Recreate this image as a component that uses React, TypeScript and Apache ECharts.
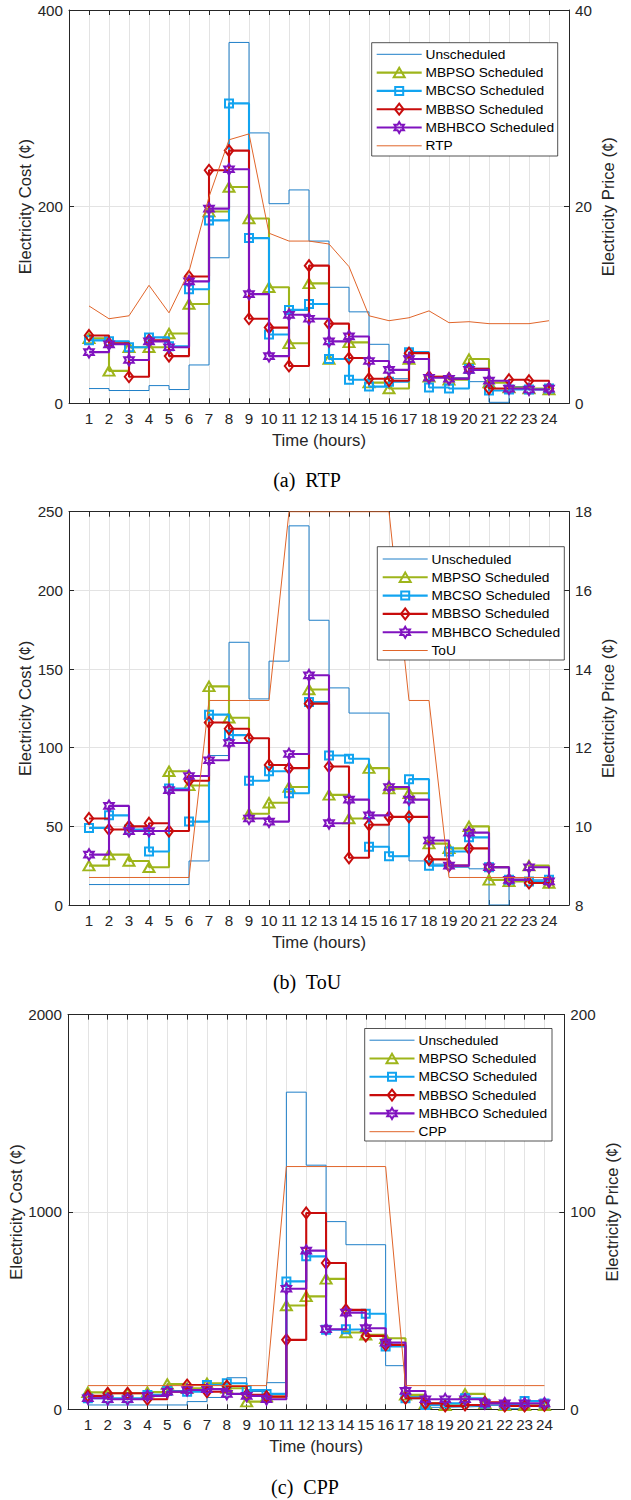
import React, { useEffect, useRef } from "react";
import * as echarts from "echarts";

const HOURS = [1, 2, 3, 4, 5, 6, 7, 8, 9, 10, 11, 12, 13, 14, 15, 16, 17, 18, 19, 20, 21, 22, 23, 24];

// (a) RTP
const A_UNSCHEDULED = [15, 13, 13, 18, 14, 39, 148, 367, 275, 203, 217, 165, 118, 93, 60, 25, 52, 27, 26, 22, 1, 17, 15, 15];
const A_MBPSO = [66, 33, 57, 57, 71, 101, 195, 220, 188, 118, 61, 122, 45, 62, 21, 15, 45, 27, 24, 45, 21, 16, 15, 14];
const A_MBCSO = [64, 63, 57, 67, 58, 116, 186, 305, 168, 70, 95, 101, 45, 24, 17, 22, 52, 16, 15, 35, 13, 14, 14, 15];
const A_MBBSO = [69, 61, 27, 64, 48, 129, 237, 257, 86, 77, 38, 140, 81, 46, 25, 23, 51, 27, 25, 35, 15, 24, 23, 15];
const A_MBHBCO = [52, 60, 44, 63, 57, 124, 198, 238, 111, 48, 90, 86, 63, 68, 43, 34, 45, 26, 25, 34, 23, 15, 14, 15];
const A_RTP = [9.9, 8.6, 8.9, 12.0, 9.2, 13.4, 21.0, 26.8, 27.4, 17.3, 16.5, 16.5, 16.2, 13.9, 8.9, 8.4, 8.7, 9.4, 8.2, 8.3, 8.1, 8.1, 8.1, 8.4];

// (b) ToU
const B_UNSCHEDULED = [13, 13, 13, 13, 13, 28, 95, 167, 131, 155, 241, 181, 138, 122, 122, 31, 28, 26, 24, 23, 0, 16, 16, 16];
const B_MBPSO = [25, 32, 28, 24, 85, 76, 139, 119, 58, 65, 75, 137, 70, 55, 87, 74, 71, 39, 36, 50, 16, 15, 25, 14];
const B_MBCSO = [49, 57, 48, 34, 74, 53, 121, 108, 79, 85, 71, 129, 95, 93, 37, 31, 80, 25, 34, 43, 24, 16, 15, 16];
const B_MBBSO = [55, 48, 50, 52, 47, 79, 116, 112, 106, 89, 87, 128, 88, 30, 51, 56, 56, 29, 25, 36, 24, 16, 14, 15];
const B_MBHBCO = [32, 63, 47, 47, 73, 82, 92, 103, 55, 53, 96, 146, 52, 67, 57, 75, 67, 41, 25, 46, 24, 16, 24, 15];
const B_TOU = [8.7, 8.7, 8.7, 8.7, 8.7, 8.7, 13.2, 13.2, 13.2, 13.2, 18, 18, 18, 18, 18, 18, 13.2, 13.2, 8.7, 8.7, 8.7, 8.7, 8.7, 8.7];

// (c) CPP
const C_UNSCHEDULED = [22, 22, 22, 22, 22, 39, 60, 160, 90, 135, 1607, 1237, 951, 834, 834, 221, 64, 10, 12, 15, 20, 3, 15, 15];
const C_MBPSO = [86, 81, 81, 87, 128, 107, 132, 107, 39, 64, 526, 572, 661, 389, 377, 360, 73, 30, 20, 78, 30, 20, 20, 20];
const C_MBCSO = [56, 56, 56, 73, 93, 89, 123, 132, 98, 78, 648, 775, 403, 406, 484, 318, 56, 22, 30, 56, 30, 22, 42, 30];
const C_MBBSO = [68, 81, 81, 51, 89, 123, 89, 118, 73, 64, 352, 995, 741, 504, 372, 326, 56, 30, 17, 22, 35, 17, 17, 20];
const C_MBHBCO = [56, 51, 51, 68, 89, 98, 102, 78, 68, 51, 611, 804, 406, 490, 411, 338, 93, 51, 51, 51, 30, 30, 30, 30];
const C_CPP = [12, 12, 12, 12, 12, 12, 12, 12, 12, 12, 123, 123, 123, 123, 123, 123, 12, 12, 12, 12, 12, 12, 12, 12];

const SERIES_NAMES = ["Unscheduled", "MBPSO Scheduled", "MBCSO Scheduled", "MBBSO Scheduled", "MBHBCO Scheduled"];

const COL_UNS = "#1F7FC8";
const COL_PSO = "#9EB51B";
const COL_CSO = "#12A4F0";
const COL_BSO = "#C80C0C";
const COL_HBCO = "#8013BF";
const COL_PRICE = "#E0652A";
const AX = "#262626";
const GRIDC = "#E3E3E3";
const FONT = '"Liberation Sans", Arial, sans-serif';

const HEX_PTS = [
  [0, -1], [0.2887, -0.5], [0.866, -0.5], [0.577, 0], [0.866, 0.5], [0.2887, 0.5],
  [0, 1], [-0.2887, 0.5], [-0.866, 0.5], [-0.577, 0], [-0.866, -0.5], [-0.2887, -0.5],
];
const HEX_PATH =
  "path://M0,-1L0.2887,-0.5L0.866,-0.5L0.577,0L0.866,0.5L0.2887,0.5L0,1L-0.2887,0.5L-0.866,0.5L-0.577,0L-0.866,-0.5L-0.2887,-0.5Z";

const MARKERS = [
  { color: COL_UNS, symbol: "none", size: [0, 0], width: 1 },
  { color: COL_PSO, symbol: "triangle", size: [11, 9.5], width: 2.1 },
  { color: COL_CSO, symbol: "rect", size: [8, 8], width: 2.1 },
  { color: COL_BSO, symbol: "diamond", size: [8.5, 11], width: 2.1 },
  { color: COL_HBCO, symbol: HEX_PATH, size: [9.5, 11], width: 2.1 },
];
const MARK_BW = 2;

const PANELS = [
  {
    grid: { left: 69, top: 10, width: 500, height: 393.3 },
    costMax: 400, costInterval: 200, priceMin: 0, priceMax: 40, priceInterval: 20,
    leftGap: 35.5, rightGap: 30.5,
    data: [A_UNSCHEDULED, A_MBPSO, A_MBCSO, A_MBBSO, A_MBHBCO],
    price: A_RTP, priceName: "RTP",
    legend: { x: 371.7, y: 42.7, w: 186, h: 113.3, firstY: 54.3, lineX: 376.7, textX: 425.5 },
    caption: { text: "(a)  RTP", x: 307, y: 480 },
  },
  {
    grid: { left: 69, top: 511.7, width: 500, height: 393.3 },
    costMax: 250, costInterval: 50, priceMin: 8, priceMax: 18, priceInterval: 2,
    leftGap: 35.5, rightGap: 30.5,
    data: [B_UNSCHEDULED, B_MBPSO, B_MBCSO, B_MBBSO, B_MBHBCO],
    price: B_TOU, priceName: "ToU",
    legend: { x: 377.3, y: 546.7, w: 187, h: 113.3, firstY: 559, lineX: 382.7, textX: 431.5 },
    caption: { text: "(b)  ToU", x: 307, y: 982 },
  },
  {
    grid: { left: 64.3, top: 1014.6, width: 500, height: 394.7 },
    costMax: 2000, costInterval: 1000, priceMin: 0, priceMax: 200, priceInterval: 100,
    leftGap: 43, rightGap: 40,
    data: [C_UNSCHEDULED, C_MBPSO, C_MBCSO, C_MBBSO, C_MBHBCO],
    price: C_CPP, priceName: "CPP",
    legend: { x: 364.7, y: 1028.5, w: 187.3, h: 112.5, firstY: 1040.2, lineX: 369.5, textX: 418.5 },
    caption: { text: "(c)  CPP", x: 305, y: 1487 },
  },
];

function markerGraphic(k: number, cx: number, cy: number) {
  const m = MARKERS[k];
  const style = { fill: "transparent", stroke: m.color, lineWidth: MARK_BW };
  const [w, h] = m.size;
  if (k === 1) {
    return { type: "polygon", z: 102, shape: { points: [[cx, cy - h / 2], [cx + w / 2, cy + h / 2], [cx - w / 2, cy + h / 2]] }, style };
  }
  if (k === 2) {
    return { type: "rect", z: 102, shape: { x: cx - w / 2, y: cy - h / 2, width: w, height: h }, style };
  }
  if (k === 3) {
    return { type: "polygon", z: 102, shape: { points: [[cx, cy - h / 2], [cx + w / 2, cy], [cx, cy + h / 2], [cx - w / 2, cy]] }, style };
  }
  if (k === 4) {
    const sx = w / 1.732;
    const sy = h / 2;
    return { type: "polygon", z: 102, shape: { points: HEX_PTS.map(([px, py]) => [cx + px * sx, cy + py * sy]) }, style };
  }
  return null;
}

function buildOption() {
  const xAxis: any[] = [];
  const yAxis: any[] = [];
  const grid: any[] = [];
  const series: any[] = [];
  const elements: any[] = [];

  PANELS.forEach((p, i) => {
    grid.push({ ...p.grid, containLabel: false });
    xAxis.push({
      gridIndex: i, type: "value", min: 0, max: 25, interval: 1, position: "bottom",
      axisLine: { show: true, onZero: false, lineStyle: { color: AX, width: 1 } },
      axisTick: { show: true, inside: true, length: 5, lineStyle: { color: AX, width: 1 } },
      axisLabel: {
        formatter: (v: number) => (v >= 1 && v <= 24 ? String(v) : ""),
        fontSize: 15.2, color: AX, fontFamily: FONT, margin: 8,
      },
      splitLine: { show: true, lineStyle: { color: GRIDC, width: 1 } },
      name: "Time (hours)", nameLocation: "middle", nameGap: 29, nameMoveOverlap: false,
      nameTextStyle: { fontSize: 16.7, color: AX, fontFamily: FONT },
    });
    xAxis.push({
      gridIndex: i, type: "value", min: 0, max: 25, interval: 1, position: "top",
      axisLine: { show: true, onZero: false, lineStyle: { color: AX, width: 1 } },
      axisTick: { show: true, inside: true, length: 5, lineStyle: { color: AX, width: 1 } },
      axisLabel: { show: false },
      splitLine: { show: false },
    });
    yAxis.push({
      gridIndex: i, type: "value", min: 0, max: p.costMax, interval: p.costInterval, position: "left",
      axisLine: { show: true, onZero: false, lineStyle: { color: AX, width: 1 } },
      axisTick: { show: true, inside: true, length: 5, lineStyle: { color: AX, width: 1 } },
      axisLabel: { fontSize: 15.2, color: AX, fontFamily: FONT, margin: 6, formatter: (v: number) => String(v) },
      splitLine: { show: true, lineStyle: { color: GRIDC, width: 1 } },
      name: "Electricity Cost (\u00A2)", nameLocation: "middle", nameRotate: 90, nameGap: p.leftGap,
      nameMoveOverlap: false,
      nameTextStyle: { fontSize: 16.7, color: AX, fontFamily: FONT },
    });
    yAxis.push({
      gridIndex: i, type: "value", min: p.priceMin, max: p.priceMax, interval: p.priceInterval, position: "right",
      axisLine: { show: true, onZero: false, lineStyle: { color: AX, width: 1 } },
      axisTick: { show: true, inside: true, length: 5, lineStyle: { color: AX, width: 1 } },
      axisLabel: { fontSize: 15.2, color: AX, fontFamily: FONT, margin: 6, formatter: (v: number) => String(v) },
      splitLine: { show: false },
      name: "Electricity Price (\u00A2)", nameLocation: "middle", nameRotate: 90, nameGap: p.rightGap,
      nameMoveOverlap: false,
      nameTextStyle: { fontSize: 16.7, color: AX, fontFamily: FONT },
    });

    p.data.forEach((vals, k) => {
      const m = MARKERS[k];
      const s: any = {
        type: "line", name: SERIES_NAMES[k], xAxisIndex: 2 * i, yAxisIndex: 2 * i,
        data: HOURS.map((h, j) => [h, vals[j]]),
        step: "end",
        lineStyle: { color: m.color, width: m.width },
        emphasis: { disabled: true },
        z: 2 + k,
      };
      if (k === 0) {
        s.symbol = "none";
        s.showSymbol = false;
        s.itemStyle = { color: m.color };
      } else {
        s.symbol = m.symbol;
        s.symbolSize = m.size;
        s.showSymbol = true;
        s.showAllSymbol = true;
        s.itemStyle = { color: "transparent", borderColor: m.color, borderWidth: MARK_BW };
      }
      series.push(s);
    });
    series.push({
      type: "line", name: p.priceName, xAxisIndex: 2 * i, yAxisIndex: 2 * i + 1,
      data: HOURS.map((h, j) => [h, p.price[j]]),
      symbol: "none", showSymbol: false,
      lineStyle: { color: COL_PRICE, width: 1 },
      itemStyle: { color: COL_PRICE },
      emphasis: { disabled: true },
      z: 8,
    });

    // legend
    const L = p.legend;
    elements.push({
      type: "rect", z: 100,
      shape: { x: L.x, y: L.y, width: L.w, height: L.h },
      style: { fill: "#ffffff", stroke: AX, lineWidth: 0.8 },
    });
    const names = [...SERIES_NAMES, p.priceName];
    names.forEach((nm, k) => {
      const cy = L.firstY + 18.3 * k;
      const color = k < 5 ? MARKERS[k].color : COL_PRICE;
      const lw = k === 0 || k === 5 ? 1 : 2.1;
      elements.push({
        type: "line", z: 101,
        shape: { x1: L.lineX, y1: cy, x2: L.lineX + 45, y2: cy },
        style: { stroke: color, lineWidth: lw },
      });
      if (k >= 1 && k <= 4) {
        const mg = markerGraphic(k, L.lineX + 22.5, cy);
        if (mg) elements.push(mg);
      }
      elements.push({
        type: "text", z: 102, x: L.textX, y: cy,
        style: { text: nm, fill: "#000000", font: `13.7px ${FONT}`, align: "left", verticalAlign: "middle" },
      });
    });

    // caption
    elements.push({
      type: "text", z: 102, x: p.caption.x, y: p.caption.y,
      style: {
        text: p.caption.text, fill: "#000000",
        font: '20px "Liberation Serif", "Times New Roman", serif',
        align: "center", verticalAlign: "middle",
      },
    });
  });

  return {
    animation: false,
    backgroundColor: "#ffffff",
    textStyle: { fontFamily: FONT },
    grid, xAxis, yAxis, series,
    graphic: { elements },
  };
}

export default function App() {
  const ref = useRef<HTMLDivElement>(null);
  useEffect(() => {
    if (!ref.current) return;
    const chart = echarts.init(ref.current, null, { renderer: "svg", width: 631, height: 1500 });
    chart.setOption(buildOption() as any);
    return () => chart.dispose();
  }, []);
  return (
    <div
      ref={ref}
      style={{ position: "absolute", left: 0, top: 0, width: 631, height: 1500, background: "#fff" }}
    />
  );
}
